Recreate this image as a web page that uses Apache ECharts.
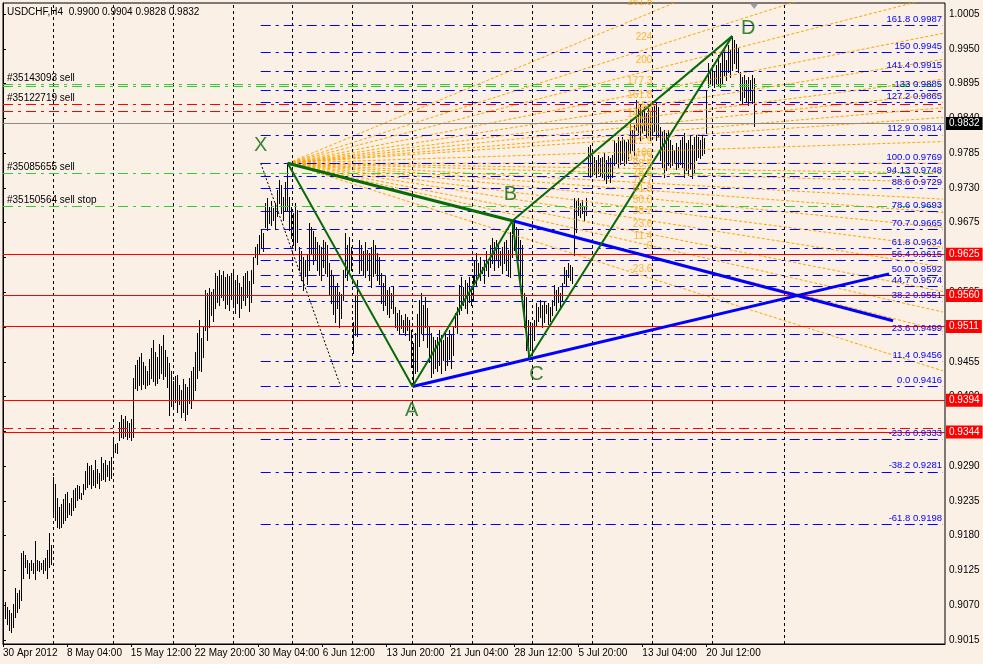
<!DOCTYPE html>
<html><head><meta charset="utf-8">
<script src="https://cdn.jsdelivr.net/npm/echarts@6/dist/echarts.min.js"></script>
<style>html,body{margin:0;padding:0;background:#FAF0E6}#c{width:983px;height:664px}</style>
</head><body><div id="c"></div>
<script>
const titleText = 'USDCHF,H4  0.9900 0.9904 0.9828 0.9832';
const timeLabelIdx = [0,32,64,96,128,160,192,224,256,288,320,352];
const timeLabels = ['30 Apr 2012','8 May 04:00','15 May 12:00','22 May 20:00','30 May 04:00','6 Jun 12:00','13 Jun 20:00','21 Jun 04:00','28 Jun 12:00','5 Jul 20:00','13 Jul 04:00','20 Jul 12:00'];
const priceTicks = [0.9015,0.9070,0.9125,0.9180,0.9235,0.9290,0.9345,0.9400,0.9455,0.9510,0.9565,0.9620,0.9675,0.9730,0.9785,0.9840,0.9895,0.9950,1.0005];
const weekLineIdx = [25,55,85,115,145,175,205,235,265,295,325,355,391];

const lows = [
0.9047,0.9050,0.9040,0.9031,0.9028,0.9036,0.9052,0.9060,0.9065,0.9078,
0.9113,0.9130,0.9121,0.9113,0.9126,0.9121,0.9112,0.9126,0.9124,0.9128,
0.9121,0.9126,0.9113,0.9130,0.9135,0.9213,0.9205,0.9194,0.9192,0.9194,
0.9200,0.9205,0.9210,0.9215,0.9212,0.9220,0.9225,0.9236,0.9240,0.9238,
0.9246,0.9254,0.9257,0.9262,0.9255,0.9260,0.9257,0.9263,0.9255,0.9268,
0.9270,0.9266,0.9274,0.9268,0.9272,0.9308,0.9312,0.9310,0.9331,0.9336,
0.9334,0.9338,0.9333,0.9336,0.9331,0.9336,0.9414,0.9410,0.9418,0.9412,
0.9420,0.9414,0.9418,0.9420,0.9430,0.9425,0.9418,0.9422,0.9430,0.9437,
0.9428,0.9432,0.9415,0.9371,0.9385,0.9380,0.9392,0.9375,0.9388,0.9367,
0.9376,0.9363,0.9372,0.9390,0.9382,0.9395,0.9410,0.9430,0.9442,0.9440,
0.9463,0.9505,0.9489,0.9510,0.9529,0.9520,0.9540,0.9550,0.9545,0.9557,
0.9552,0.9540,0.9547,0.9537,0.9555,0.9542,0.9532,0.9548,0.9526,0.9540,
0.9552,0.9545,0.9558,0.9535,0.9550,0.9580,0.9621,0.9610,0.9627,0.9635,
0.9630,0.9668,0.9663,0.9675,0.9671,0.9679,0.9665,0.9685,0.9706,0.9690,
0.9679,0.9695,0.9695,0.9663,0.9650,0.9640,0.9632,0.9645,0.9600,0.9584,
0.9569,0.9590,0.9578,0.9600,0.9627,0.9610,0.9616,0.9600,0.9592,0.9584,
0.9605,0.9595,0.9590,0.9560,0.9548,0.9530,0.9518,0.9540,0.9510,0.9525,
0.9553,0.9589,0.9584,0.9595,0.9600,0.9469,0.9497,0.9495,0.9595,0.9600,
0.9592,0.9589,0.9600,0.9584,0.9573,0.9590,0.9595,0.9584,0.9578,0.9548,
0.9537,0.9545,0.9530,0.9526,0.9540,0.9532,0.9510,0.9505,0.9500,0.9508,
0.9502,0.9497,0.9505,0.9489,0.9447,0.9416,0.9437,0.9440,0.9480,0.9500,
0.9490,0.9510,0.9478,0.9455,0.9431,0.9437,0.9445,0.9440,0.9450,0.9437,
0.9458,0.9442,0.9450,0.9460,0.9445,0.9466,0.9510,0.9500,0.9530,0.9537,
0.9545,0.9540,0.9532,0.9550,0.9545,0.9553,0.9580,0.9576,0.9589,0.9584,
0.9595,0.9580,0.9600,0.9590,0.9605,0.9611,0.9600,0.9616,0.9605,0.9608,
0.9595,0.9611,0.9600,0.9590,0.9589,0.9620,0.9632,0.9621,0.9616,0.9580,
0.9553,0.9510,0.9474,0.9461,0.9474,0.9469,0.9489,0.9513,0.9520,0.9526,
0.9510,0.9518,0.9532,0.9515,0.9520,0.9529,0.9545,0.9537,0.9550,0.9542,
0.9553,0.9580,0.9576,0.9589,0.9584,0.9580,0.9624,0.9660,0.9687,0.9684,
0.9690,0.9679,0.9687,0.9750,0.9747,0.9750,0.9752,0.9747,0.9754,0.9750,
0.9747,0.9742,0.9738,0.9745,0.9740,0.9747,0.9766,0.9770,0.9763,0.9768,
0.9774,0.9766,0.9770,0.9774,0.9785,0.9790,0.9782,0.9822,0.9815,0.9806,
0.9818,0.9822,0.9811,0.9814,0.9806,0.9815,0.9820,0.9806,0.9810,0.9774,
0.9763,0.9747,0.9758,0.9766,0.9763,0.9766,0.9770,0.9760,0.9763,0.9768,
0.9763,0.9747,0.9758,0.9750,0.9760,0.9746,0.9754,0.9774,0.9779,0.9777,
0.9782,0.9785,0.9817,0.9890,0.9896,0.9893,0.9890,0.9896,0.9893,0.9890,
0.9896,0.9909,0.9901,0.9913,0.9905,0.9916,0.9928,0.9920,0.9913,0.9869,
0.9864,0.9874,0.9866,0.9861,0.9869,0.9864,0.9828];

const highs = [
0.9078,0.9075,0.9068,0.9062,0.9058,0.9072,0.9097,0.9089,0.9094,0.9153,
0.9155,0.9149,0.9142,0.9137,0.9142,0.9137,0.9172,0.9142,0.9140,0.9137,
0.9142,0.9145,0.9157,0.9184,0.9165,0.9273,0.9262,0.9240,0.9225,0.9230,
0.9238,0.9246,0.9249,0.9232,0.9240,0.9252,0.9255,0.9260,0.9258,0.9248,
0.9262,0.9282,0.9295,0.9290,0.9292,0.9284,0.9300,0.9286,0.9279,0.9304,
0.9295,0.9300,0.9292,0.9298,0.9304,0.9331,0.9325,0.9327,0.9360,0.9371,
0.9365,0.9369,0.9362,0.9358,0.9365,0.9429,0.9450,0.9458,0.9462,0.9469,
0.9455,0.9448,0.9440,0.9460,0.9477,0.9490,0.9470,0.9462,0.9483,0.9480,
0.9497,0.9474,0.9463,0.9453,0.9440,0.9425,0.9432,0.9434,0.9418,0.9410,
0.9428,0.9420,0.9415,0.9430,0.9440,0.9447,0.9470,0.9500,0.9521,0.9493,
0.9510,0.9568,0.9564,0.9572,0.9566,0.9570,0.9595,0.9590,0.9600,0.9592,
0.9598,0.9589,0.9594,0.9590,0.9596,0.9600,0.9585,0.9592,0.9580,0.9573,
0.9590,0.9595,0.9598,0.9582,0.9600,0.9620,0.9637,0.9642,0.9655,0.9663,
0.9659,0.9706,0.9714,0.9700,0.9710,0.9698,0.9706,0.9727,0.9742,0.9735,
0.9716,0.9740,0.9769,0.9716,0.9700,0.9690,0.9706,0.9695,0.9637,0.9630,
0.9621,0.9616,0.9625,0.9674,0.9668,0.9662,0.9652,0.9645,0.9640,0.9637,
0.9648,0.9644,0.9640,0.9611,0.9600,0.9592,0.9573,0.9580,0.9566,0.9562,
0.9600,0.9659,0.9640,0.9652,0.9637,0.9518,0.9560,0.9584,0.9648,0.9640,
0.9630,0.9644,0.9632,0.9627,0.9637,0.9648,0.9640,0.9627,0.9621,0.9595,
0.9580,0.9590,0.9569,0.9573,0.9564,0.9575,0.9542,0.9532,0.9537,0.9529,
0.9521,0.9530,0.9526,0.9521,0.9505,0.9485,0.9500,0.9530,0.9553,0.9564,
0.9545,0.9558,0.9540,0.9510,0.9500,0.9494,0.9489,0.9494,0.9505,0.9497,
0.9489,0.9500,0.9494,0.9505,0.9497,0.9510,0.9532,0.9542,0.9576,0.9589,
0.9573,0.9585,0.9580,0.9589,0.9575,0.9592,0.9616,0.9627,0.9611,0.9621,
0.9605,0.9616,0.9630,0.9618,0.9640,0.9651,0.9644,0.9648,0.9640,0.9630,
0.9637,0.9645,0.9648,0.9632,0.9660,0.9679,0.9675,0.9668,0.9663,0.9648,
0.9640,0.9564,0.9557,0.9521,0.9518,0.9510,0.9521,0.9548,0.9542,0.9553,
0.9545,0.9550,0.9545,0.9548,0.9542,0.9553,0.9576,0.9569,0.9573,0.9564,
0.9580,0.9605,0.9600,0.9611,0.9608,0.9605,0.9714,0.9710,0.9714,0.9706,
0.9711,0.9700,0.9714,0.9795,0.9798,0.9782,0.9779,0.9774,0.9782,0.9777,
0.9779,0.9785,0.9774,0.9780,0.9777,0.9782,0.9806,0.9801,0.9810,0.9804,
0.9811,0.9806,0.9802,0.9808,0.9837,0.9822,0.9830,0.9869,0.9855,0.9861,
0.9853,0.9858,0.9849,0.9856,0.9850,0.9853,0.9860,0.9864,0.9858,0.9826,
0.9820,0.9822,0.9817,0.9822,0.9806,0.9798,0.9790,0.9801,0.9795,0.9806,
0.9811,0.9817,0.9801,0.9806,0.9814,0.9798,0.9811,0.9814,0.9811,0.9806,
0.9814,0.9809,0.9885,0.9928,0.9916,0.9922,0.9913,0.9925,0.9940,0.9928,
0.9943,0.9951,0.9932,0.9956,0.9948,0.9970,0.9964,0.9958,0.9951,0.9913,
0.9905,0.9909,0.9901,0.9905,0.9901,0.9909,0.9904];

// Fibonacci retracement (X -> A)
const fibLevels = ['161.8','150','141.4','133','127.2','112.9','100.0','94.13','88.6','78.6','70.7','61.8','56.4','50.0','44.7','38.2','23.6','11.4','0.0','-23.6','-38.2','-61.8'];
const fibPrices = [0.9987,0.9945,0.9915,0.9885,0.9865,0.9814,0.9769,0.9748,0.9729,0.9693,0.9665,0.9634,0.9615,0.9592,0.9574,0.9551,0.9499,0.9456,0.9416,0.9333,0.9281,0.9198];
const fibAnchorIdx = [129, 169];
const fibAnchorPrice = [0.9769, 0.9416];
const fibEndIdx = 470.5;

// Fibonacci fan from X
const fanLevels = [261.8,224,200,177.3,161.8,150,141.4,133,127.2,112.9,100,94.13,88.6,78.6,70.7,61.8,50.0,38.2,23.6,11.4,0,-23.6];
const fanLabelText = ['261.8','224','200','177.3','161.8','150','141.4','133','127.2','112.9','100','94.13','88.6','78.6','70.7','61.8','50.0','38.2','23.6','11.4','0','-23.6'];
const fanOrigin = [142.5, 0.9769];
const fanAnchorIdx = 321.5;
const fanZeroPrice = 0.9624;
const fanLabelIdx = 325;

// horizontal lines
const hLinePrices = [0.9625,0.9560,0.9511,0.9394,0.9344];
const orderNames = ['#35143093 sell','','#35122719 sell','','#35085655 sell','#35150564 sell stop',''];
const orderPrices = [0.98938,0.98907,0.98627,0.98516,0.97535,0.97013,0.93502];
const orderSide = ['g','g','r','r','g','g','r'];
const lastPrice = 0.9832;

// harmonic pattern points
const patNames = ['X','A','B','C','D'];
const patIdx = [142.5,205,255,263.5,365];
const patPrice = [0.9769,0.9416,0.9678,0.9461,0.9970];
// trend lines through X-B and A-C, extended
const upperTrendEnd = [445.5, 0.9520];
const lowerTrendEnd = [443.5, 0.9594];

const FONT = 'Liberation Sans';
const GREEN = '#0A6A0A';
const sideColor = {g:'#32CD32', r:'#FF0000'};
const dashDot = [10,5,3,5];
const letterOffset = {X:[-27,-18], A:[-1,24], B:[-2,-26], C:[7,16], D:[16,-8]};

const series = [];
// vertical grid
series.push({type:'line', data:[], silent:true, z:1, animation:false,
  markLine:{symbol:'none', silent:true, animation:false, precision:6, label:{show:false},
    lineStyle:{color:'#000', type:[3,3], width:1},
    data: weekLineIdx.map(v=>({xAxis:v}))}});
// price bars
series.push({type:'custom', z:2, animation:false, clip:true,
  data: lows.map((l,i)=>[i,l,highs[i]]),
  encode:{x:0, y:[1,2]},
  renderItem:(params, api)=>{
    const t = api.coord([api.value(0), api.value(2)]);
    const b = api.coord([api.value(0), api.value(1)]);
    const x = Math.round(t[0]) + 0.5;
    return {type:'line', shape:{x1:x, y1:Math.round(t[1]), x2:x, y2:Math.round(b[1])+1},
      style:{stroke:'#000', lineWidth:1}};
  }});
// horizontal red lines, order lines, current price
const hData = [];
hLinePrices.forEach(p=>hData.push({yAxis:p, lineStyle:{color:'#FF0000', type:'solid', width:1},
  label:{show:true, position:'end', distance:1, formatter:p.toFixed(4), color:'#fff', backgroundColor:'#FF0000', padding:[2,3,1,3], fontSize:10, fontFamily:FONT}}));
orderPrices.forEach((p,k)=>hData.push({yAxis:p, lineStyle:{color:sideColor[orderSide[k]], type:dashDot, width:1},
  label:{show: orderNames[k] !== '', position:'insideStartTop', distance:1, formatter:orderNames[k], color:'#000', fontSize:10, fontFamily:FONT, padding:[0,0,0,3]}}));
hData.push({yAxis:lastPrice, lineStyle:{color:'#8A8A8A', type:'solid', width:1},
  label:{show:true, position:'end', distance:1, formatter:lastPrice.toFixed(4), color:'#fff', backgroundColor:'#000', padding:[2,3,1,3], fontSize:10, fontFamily:FONT}});
series.push({type:'line', data:[], silent:true, z:4, animation:false,
  markLine:{symbol:'none', silent:true, animation:false, precision:6, data:hData}});
// fib retracement lines
series.push({type:'line', data:[], silent:true, z:3, animation:false,
  markLine:{symbol:'none', silent:true, animation:false, precision:6,
    data: fibPrices.map((p,k)=>[
      {coord:[fibAnchorIdx[0], p], lineStyle:{color:'#0000FF', type:dashDot, width:1},
        label:{show:true, position:'insideEndTop', distance:1, formatter: fibLevels[k]+' '+p.toFixed(4), color:'#0000FF', fontSize:9.5, fontFamily:FONT}},
      {coord:[fibEndIdx, p]}])}});
// fib diagonal
series.push({type:'line', z:3, animation:false, silent:true, symbol:'none',
  data:[[fibAnchorIdx[0], fibAnchorPrice[0]],[fibAnchorIdx[1], fibAnchorPrice[1]]],
  lineStyle:{color:'#000', width:1, type:[2,2]}});
// fan lines
const fanPriceAt = (L, idx) => {
  const pa = fanOrigin[1] + (1 - L/100) * (fanZeroPrice - fanOrigin[1]);
  return fanOrigin[1] + (pa - fanOrigin[1]) * (idx - fanOrigin[0]) / (fanAnchorIdx - fanOrigin[0]);
};
fanLevels.forEach(L=>{
  series.push({type:'line', z:3, animation:false, silent:true, symbol:'none', clip:true,
    data:[[fanOrigin[0], fanOrigin[1]],[fibEndIdx, fanPriceAt(L, fibEndIdx)]],
    lineStyle:{color:'#FFA500', width:1, type:[3,2]}});
});
series.push({type:'scatter', z:6, animation:false, silent:true, symbolSize:0, clip:false,
  data: fanLevels.map((L,k)=>({value:[fanLabelIdx, fanPriceAt(L, fanLabelIdx)], name:fanLabelText[k]})),
  label:{show:true, position:'left', distance:0, offset:[0,-10], formatter:p=>p.name, color:'#FFA500', fontSize:10, fontFamily:FONT}});
// blue trend lines
series.push({type:'line', z:5, animation:false, silent:true, symbol:'none',
  data:[[patIdx[2], patPrice[2]], upperTrendEnd], lineStyle:{color:'#0000FF', width:3}});
series.push({type:'line', z:5, animation:false, silent:true, symbol:'none',
  data:[[patIdx[1], patPrice[1]], lowerTrendEnd], lineStyle:{color:'#0000FF', width:3}});
// pattern lines
series.push({type:'line', z:6, animation:false, silent:true, symbol:'none',
  data: patIdx.map((x,k)=>[x, patPrice[k]]), lineStyle:{color:GREEN, width:2}});
series.push({type:'line', z:6, animation:false, silent:true, symbol:'none',
  data:[[patIdx[0], patPrice[0]],[patIdx[2], patPrice[2]]], lineStyle:{color:GREEN, width:3}});
series.push({type:'line', z:6, animation:false, silent:true, symbol:'none',
  data:[[patIdx[2], patPrice[2]],[patIdx[4], patPrice[4]]], lineStyle:{color:GREEN, width:2}});
// letters
series.push({type:'scatter', z:7, animation:false, silent:true, symbolSize:0, clip:false,
  data: patNames.map((n,k)=>({value:[patIdx[k], patPrice[k]], name:n,
    label:{offset:letterOffset[n]}})),
  label:{show:true, position:'inside', formatter:p=>p.name, color:GREEN, fontSize:20, fontFamily:FONT}});
// shift marker
series.push({type:'scatter', z:7, animation:false, silent:true, clip:false,
  data:[[lows.length-1, 1.00224]], symbol:'triangle', symbolRotate:180, symbolSize:[9,6], symbolOffset:[0,3],
  itemStyle:{color:'#8A8A8A'}});

const chart = echarts.init(document.getElementById('c'), null, {renderer:'canvas'});
chart.setOption({
  animation:false,
  backgroundColor:'#FAF0E6',
  textStyle:{fontFamily:FONT},
  title:{text:titleText, left:7, top:7, padding:0, textStyle:{fontSize:10, fontWeight:'normal', color:'#000', fontFamily:FONT}},
  grid:{left:2, right:38, top:3, bottom:20, show:true, borderColor:'#000', borderWidth:1, backgroundColor:'transparent'},
  xAxis:{type:'value', min:0, max:471.5,
    axisLine:{show:true, lineStyle:{color:'#000'}},
    splitLine:{show:false},
    axisTick:{show:true, customValues:timeLabelIdx, length:3, lineStyle:{color:'#000'}},
    axisLabel:{customValues:timeLabelIdx, formatter:v=>timeLabels[timeLabelIdx.indexOf(v)] || '', align:'left', margin:4, fontSize:10, color:'#000', fontFamily:FONT, showMinLabel:true, showMaxLabel:true}},
  yAxis:{type:'value', position:'right', min:0.90087, max:1.00224, scale:true,
    axisLine:{show:true, lineStyle:{color:'#000'}},
    splitLine:{show:false},
    axisTick:{show:true, customValues:priceTicks, length:3, lineStyle:{color:'#000'}},
    axisLabel:{customValues:priceTicks, formatter:v=>v.toFixed(4), margin:4, fontSize:10, color:'#000', fontFamily:FONT, showMinLabel:true, showMaxLabel:true}},
  series
});
</script></body></html>
